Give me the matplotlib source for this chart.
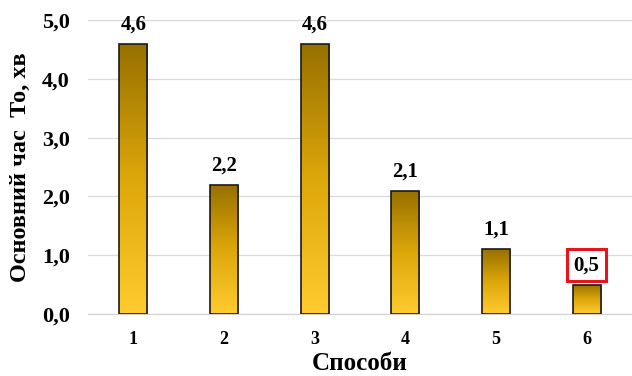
import numpy as np
import matplotlib
matplotlib.use("Agg")
import matplotlib.pyplot as plt
from matplotlib.colors import LinearSegmentedColormap

categories = ["1", "2", "3", "4", "5", "6"]
values = [4.6, 2.2, 4.6, 2.1, 1.1, 0.5]
labels = ["4,6", "2,2", "4,6", "2,1", "1,1", "0,5"]
yticks = [0.0, 1.0, 2.0, 3.0, 4.0, 5.0]
ytick_labels = ["0,0", "1,0", "2,0", "3,0", "4,0", "5,0"]

plt.rcParams['font.family'] = ['Liberation Serif', 'DejaVu Serif']
plt.rcParams['font.weight'] = 'bold'

fig = plt.figure(figsize=(6.32, 3.76), dpi=100)
ax = fig.add_axes([88 / 632, 62 / 376, 544 / 632, 294 / 376])

gold = LinearSegmentedColormap.from_list("gold", ["#FFCB2E", "#DDA70A", "#967000"])
grad = np.linspace(0, 1, 256).reshape(-1, 1)

x = np.arange(len(categories))
width = 0.31
bars = ax.bar(x, values, width=width, color="none", edgecolor="#1a1a1a", linewidth=1.2, zorder=3)

# vertical gradient inside every bar, then the value on top
for bar, lab in zip(bars, labels):
    x0 = bar.get_x()
    h = bar.get_height()
    im = ax.imshow(grad, extent=[x0, x0 + width, 0, h], origin="lower", cmap=gold,
                   aspect="auto", zorder=2)
    im.set_clip_path(bar)
    txt = ax.text(x0 + width / 2, h + 0.33, lab, ha="center", va="center",
                  fontsize=15, fontweight="bold", zorder=4)
    if lab == "0,5":
        txt.set_bbox(dict(boxstyle="square,pad=0.3", facecolor="white",
                          edgecolor="#e8141c", linewidth=2.2))

ax.set_xlim(-0.5, len(categories) - 0.5)
ax.set_ylim(0, 5.0)
ax.set_xticks(x)
ax.set_xticklabels(categories, fontsize=13, fontweight="bold")
ax.set_yticks(yticks)
ax.set_yticklabels(ytick_labels, fontsize=16, fontweight="bold")
ax.tick_params(axis="both", length=0)
ax.tick_params(axis="x", pad=12)
ax.tick_params(axis="y", pad=13)

ax.grid(axis="y", color="#d9d9d9", linewidth=0.9, zorder=0)
ax.set_axisbelow(True)
for side in ["top", "right", "left"]:
    ax.spines[side].set_visible(False)
ax.spines["bottom"].set_color("#d0d0d0")

ax.set_xlabel("Способи", fontsize=18, fontweight="bold", va="center")
ax.xaxis.set_label_coords(0.5, -0.167)
ax.set_ylabel("Основний час  То, хв", fontsize=17.5, fontweight="bold", va="center")
ax.yaxis.set_label_coords(-0.125, 0.5)

fig.savefig("out.png", dpi=100)
